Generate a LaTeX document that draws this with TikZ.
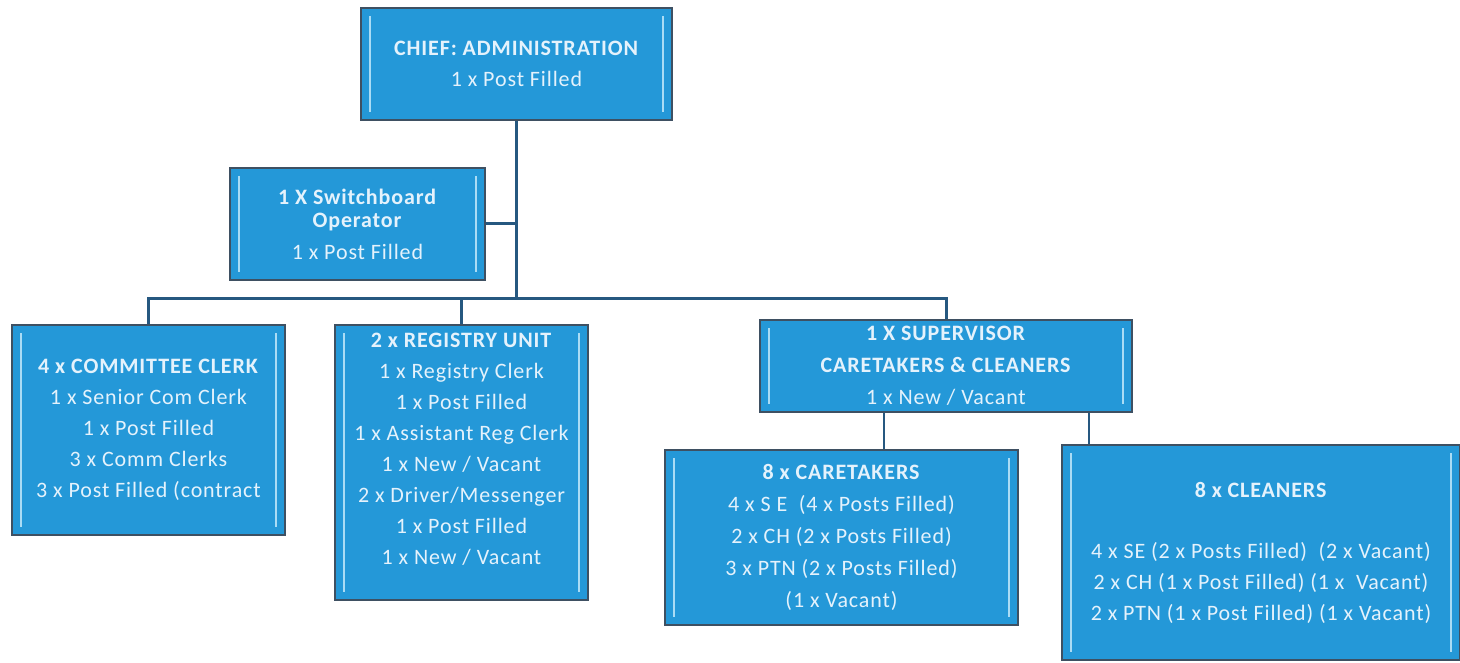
\documentclass[tikz,border=0pt]{standalone}
\usepackage{fontspec}
\setmainfont{Carlito}[LetterSpace=4]
\usetikzlibrary{calc}
\definecolor{boxblue}{RGB}{36,152,216}
\definecolor{boxedge}{RGB}{62,80,98}
\definecolor{bevel}{RGB}{170,220,245}
\definecolor{linkc}{RGB}{38,88,128}
\definecolor{lbl}{RGB}{228,242,252}
\tikzset{
  box/.style={draw=boxedge, line width=1pt, fill=boxblue, rectangle, inner sep=0pt,
    path picture={
      \draw[bevel, line width=1pt]
        ([xshift=4.5pt,yshift=-4pt]path picture bounding box.north west) --
        ([xshift=4.5pt,yshift=4pt]path picture bounding box.south west);
      \draw[bevel, line width=1pt]
        ([xshift=-4.5pt,yshift=-4pt]path picture bounding box.north east) --
        ([xshift=-4.5pt,yshift=4pt]path picture bounding box.south east);
    }},
  txt/.style={text=lbl, align=center, inner sep=0pt, font=\fontsize{11}{15.5}\selectfont},
  link/.style={draw=linkc, line width=1.5pt}
}
\begin{document}
\begin{tikzpicture}[x=0.5pt, y=-0.5pt]
\useasboundingbox (0,0) rectangle (1460,663);

% Boxes with their texts
\node[box, txt, minimum width=155.5pt, minimum height=56pt] (chief) at (516.5,64)
  {\textbf{CHIEF: ADMINISTRATION}\\1 x Post Filled};

\node[box, txt, font=\fontsize{11}{11.5}\selectfont, minimum width=127.5pt, minimum height=56pt] (sw) at (357.5,224)
  {\textbf{1 X Switchboard}\\\textbf{Operator}\\[4.5pt]1 x Post Filled};

\node[box, txt, minimum width=136.5pt, minimum height=105pt] (com) at (148.5,430)
  {\textbf{4 x COMMITTEE CLERK}\\1 x Senior Com Clerk\\1 x Post Filled\\3 x Comm Clerks\\3 x Post Filled (contract};

\node[box, minimum width=126.5pt, minimum height=137.5pt] (reg) at (461.5,462.5) {};
\node[txt] (regtxt) at (461.5,449)
  {\textbf{2 x REGISTRY UNIT}\\1 x Registry Clerk\\1 x Post Filled\\1 x Assistant Reg Clerk\\1 x New / Vacant\\2 x Driver/Messenger\\1 x Post Filled\\1 x New / Vacant};

\node[box, txt, font=\fontsize{11}{16}\selectfont, minimum width=186pt, minimum height=46pt] (sup) at (946,366)
  {\textbf{1 X SUPERVISOR}\\\textbf{CARETAKERS \& CLEANERS}\\1 x New / Vacant};

\node[box, txt, font=\fontsize{11}{16}\selectfont, minimum width=176.5pt, minimum height=87.5pt] (care) at (841.5,537.5)
  {\textbf{8 x CARETAKERS}\\4 x S E\ \ (4 x Posts Filled)\\2 x CH (2 x Posts Filled)\\3 x PTN (2 x Posts Filled)\\(1 x Vacant)};

\node[box, txt, minimum width=199pt, minimum height=107.5pt] (clean) at (1261,552.5)
  {\textbf{8 x CLEANERS}\\[15pt]4 x SE (2 x Posts Filled)\ \ (2 x Vacant)\\2 x CH (1 x Post Filled) (1 x\ \ Vacant)\\2 x PTN (1 x Post Filled) (1 x Vacant)};

% Connectors
\coordinate (bar) at (chief.south |- 0,298);
\draw[link] (chief.south) -- (bar);
\draw[link] (sw.east) -- (sw.east -| bar);
\draw[link] (com.north) |- (bar) -| (sup.north);
\draw[link] (reg.north) -- (reg.north |- bar);
\coordinate (tcare) at ($(sup.south west)!0.333!(sup.south east)$);
\coordinate (tclean) at ($(sup.south west)!0.882!(sup.south east)$);
\draw[link, line width=1pt] (tcare) -- (tcare |- care.north);
\draw[link, line width=1pt] (tclean) -- (tclean |- clean.north);
\end{tikzpicture}
\end{document}
